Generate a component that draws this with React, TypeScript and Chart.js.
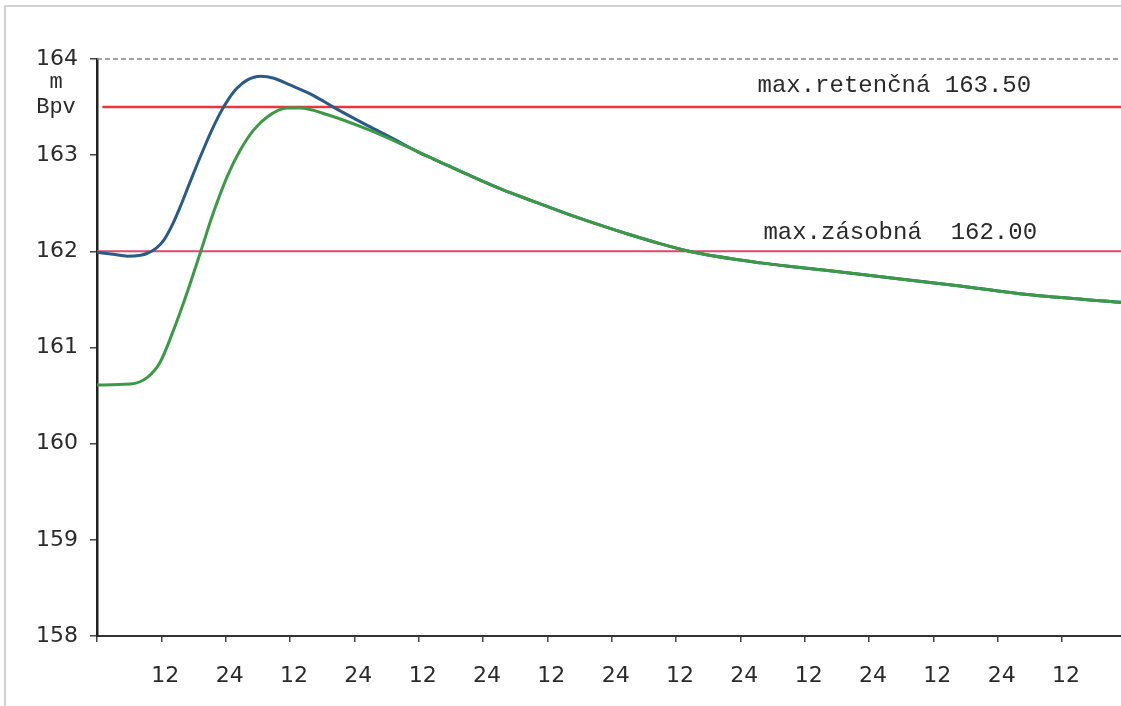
import React, { useEffect, useRef } from 'react';
import { Chart, registerables } from 'chart.js';

Chart.register(...registerables);

// hours from the start of the record
const GREEN_HOURS = [0, 6.2, 9.4, 11.8, 14.2, 16.8, 19.3, 21.7, 24.3, 26.7, 29.2, 31.8, 35.5, 37.9, 43, 50.4, 56.6, 62.8, 69.1, 75.3, 81.4, 87.7, 94, 99, 105, 111.3, 123.8, 136.3, 148.6, 161, 173.5, 191];
const GREEN_LEVEL = [160.61, 160.62, 160.69, 160.85, 161.17, 161.57, 161.99, 162.4, 162.78, 163.05, 163.26, 163.4, 163.49, 163.49, 163.42, 163.27, 163.12, 162.96, 162.8, 162.65, 162.52, 162.39, 162.27, 162.18, 162.08, 161.99, 161.88, 161.8, 161.72, 161.64, 161.55, 161.47];

const BLUE_HOURS = [0, 3, 5.7, 8.1, 9.4, 11, 12.5, 14, 15.5, 17, 18.5, 20, 21.5, 23, 24.5, 26, 28, 30.5, 33, 36, 40.4, 44.1, 50.4, 55.3, 60, 62.8, 69.1, 75.3, 81.4, 87.7, 94, 99, 105, 111.3, 123.8, 136.3, 148.6, 161, 173.5, 191];
const BLUE_LEVEL = [161.99, 161.97, 161.95, 161.96, 161.98, 162.03, 162.12, 162.27, 162.46, 162.67, 162.88, 163.08, 163.27, 163.44, 163.58, 163.69, 163.78, 163.82, 163.8, 163.73, 163.62, 163.5, 163.31, 163.17, 163.03, 162.96, 162.8, 162.65, 162.52, 162.39, 162.27, 162.18, 162.08, 161.99, 161.88, 161.8, 161.72, 161.64, 161.55, 161.47];

const RETENTION_LEVEL = 163.5;
const STORAGE_LEVEL = 162.0;
const RETENTION_LABEL = 'max.retenčná 163.50';
const STORAGE_LABEL = 'max.zásobná  162.00';
const Y_UNIT = ['m', 'Bpv'];
const X_MIN = 0;
const X_MAX = 191;
const X_STEP = 12;
const Y_MIN = 158;
const Y_MAX = 164;

const NUM_FONT = { family: '"DejaVu Sans", sans-serif', size: 22 };
const MONO = '"Liberation Mono", "DejaVu Sans Mono", monospace';

const toPoints = (xs: number[], ys: number[]) => xs.map((x, i) => ({ x, y: ys[i] }));

const decorPlugin = {
  id: 'decor',
  beforeDraw(chart: any) {
    const { ctx, width, height } = chart;
    ctx.save();
    ctx.fillStyle = '#ffffff';
    ctx.fillRect(0, 0, width, height);
    ctx.restore();
  },
  afterDraw(chart: any) {
    const { ctx, chartArea, scales } = chart;
    const xs = scales.x;
    const ys = scales.y;
    ctx.save();
    // outer frame
    ctx.strokeStyle = '#c4c4c4';
    ctx.lineWidth = 1.5;
    ctx.beginPath();
    ctx.moveTo(5, 706);
    ctx.lineTo(5, 6);
    ctx.lineTo(1121, 6);
    ctx.stroke();
    // top border of plot
    ctx.strokeStyle = '#8a8a8a';
    ctx.setLineDash([5, 3]);
    ctx.lineWidth = 1.5;
    ctx.beginPath();
    ctx.moveTo(chartArea.left, chartArea.top);
    ctx.lineTo(chartArea.right, chartArea.top);
    ctx.stroke();
    ctx.setLineDash([]);
    // unit label
    ctx.fillStyle = '#2a2a2a';
    ctx.font = `22px ${MONO}`;
    ctx.textAlign = 'center';
    ctx.textBaseline = 'alphabetic';
    ctx.fillText(Y_UNIT[0], 56, 88);
    ctx.fillText(Y_UNIT[1], 56, 113);
    // reference labels
    ctx.font = `24px ${MONO}`;
    ctx.textAlign = 'left';
    ctx.fillText(RETENTION_LABEL, xs.getPixelForValue(123.2), ys.getPixelForValue(RETENTION_LEVEL) - 15);
    ctx.fillText(STORAGE_LABEL, xs.getPixelForValue(124.3), ys.getPixelForValue(STORAGE_LEVEL) - 12);
    ctx.restore();
  },
};

export default function App() {
  const ref = useRef<HTMLCanvasElement>(null);
  useEffect(() => {
    document.body.style.margin = '0';
    const chart = new Chart(ref.current as HTMLCanvasElement, {
      type: 'line',
      data: {
        datasets: [
          {
            label: 'green',
            data: toPoints(GREEN_HOURS, GREEN_LEVEL),
            borderColor: '#3b9a46',
            borderWidth: 3,
            pointRadius: 0,
            cubicInterpolationMode: 'monotone',
            fill: false,
          },
          {
            label: 'blue',
            data: toPoints(BLUE_HOURS, BLUE_LEVEL),
            borderColor: '#2a5a86',
            borderWidth: 3,
            pointRadius: 0,
            cubicInterpolationMode: 'monotone',
            fill: false,
          },
          {
            label: 'retention',
            data: [{ x: 1, y: RETENTION_LEVEL }, { x: X_MAX, y: RETENTION_LEVEL }],
            borderColor: '#e8373c',
            borderWidth: 2.5,
            pointRadius: 0,
            fill: false,
          },
          {
            label: 'storage',
            data: [{ x: X_MIN, y: STORAGE_LEVEL }, { x: X_MAX, y: STORAGE_LEVEL }],
            borderColor: '#e0466c',
            borderWidth: 2,
            pointRadius: 0,
            fill: false,
          },
        ],
      },
      options: {
        animation: false,
        responsive: false,
        layout: { padding: { top: 59, left: 0, right: 0, bottom: 0 } },
        plugins: { legend: { display: false }, tooltip: { enabled: false } },
        scales: {
          x: {
            type: 'linear',
            min: X_MIN,
            max: X_MAX,
            afterFit: (s: any) => { s.height = 70; },
            ticks: {
              stepSize: X_STEP,
              includeBounds: false,
              autoSkip: false,
              maxRotation: 0,
              font: NUM_FONT,
              color: '#2a2a2a',
              padding: 21,
              labelOffset: 4,
              callback: (v: any) => (v === 0 ? '' : v % 24 === 0 ? '24' : '12'),
            },
            grid: { drawOnChartArea: false, tickLength: 6, color: '#444', lineWidth: 1.5 },
            border: { color: '#333', width: 2 },
          },
          y: {
            min: Y_MIN,
            max: Y_MAX,
            afterFit: (s: any) => { s.width = 97; },
            ticks: {
              stepSize: 1,
              font: NUM_FONT,
              color: '#2a2a2a',
              padding: 12,
            },
            grid: { drawOnChartArea: false, tickLength: 7, color: '#444', lineWidth: 1.5 },
            border: { color: '#222', width: 2.5 },
          },
        },
      },
      plugins: [decorPlugin],
    } as any);
    return () => chart.destroy();
  }, []);
  return (
    <div style={{ position: 'fixed', left: 0, top: 0, width: 1121, height: 706, overflow: 'hidden', background: '#fff' }}>
      <canvas ref={ref} width={1121} height={706} style={{ display: 'block' }} />
    </div>
  );
}
